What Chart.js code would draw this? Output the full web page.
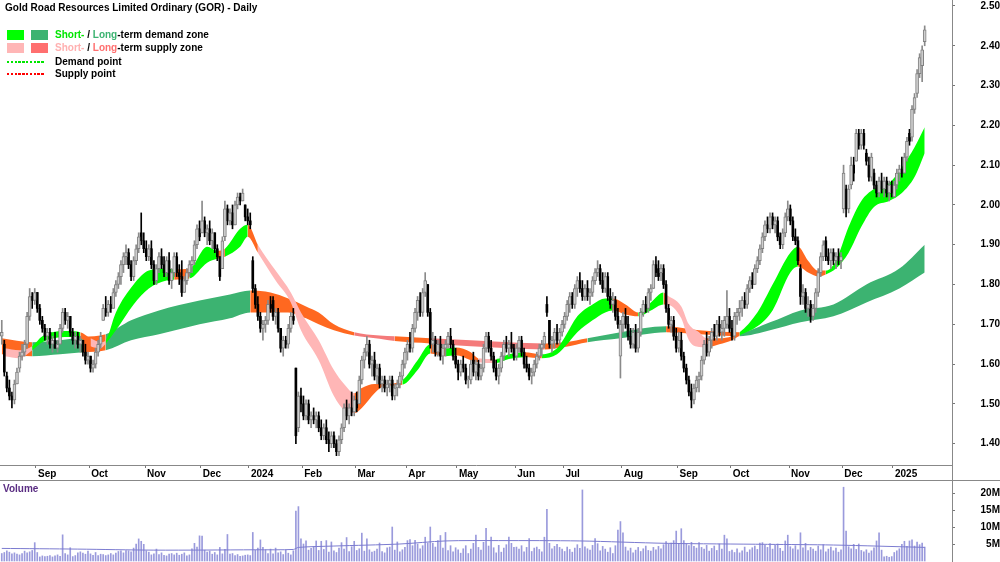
<!DOCTYPE html>
<html><head><meta charset="utf-8">
<script src="https://cdn.jsdelivr.net/npm/chart.js@4.4.1/dist/chart.umd.min.js"></script>
<style>
html,body{margin:0;padding:0;background:#fff;}
#wrap{position:relative;width:1000px;height:562px;overflow:hidden;font-family:"Liberation Sans",Arial,sans-serif;font-weight:bold;font-size:10px;color:#000;}
canvas{position:absolute;left:0;}
#c1{top:0;}
#c2{top:481px;}
.t{position:absolute;white-space:nowrap;line-height:12px;}
.sq{position:absolute;width:17px;height:10px;}
.dot{position:absolute;width:38px;height:2px;}
.ln{position:absolute;background:#888;}
</style></head>
<body>
<div id="wrap">
<canvas id="c1" width="1000" height="481"></canvas>
<canvas id="c2" width="1000" height="81"></canvas>
<div class="ln" style="left:0;top:480px;width:1000px;height:1px"></div>
<div class="ln" style="left:952px;top:0;width:1px;height:562px"></div>
<div class="t" style="left:5px;top:2px">Gold Road Resources Limited Ordinary (GOR) - Daily</div>
<div class="sq" style="left:7px;top:30px;background:#00FF00"></div>
<div class="sq" style="left:31px;top:30px;background:#3CB371"></div>
<div class="t" style="left:55px;top:29px"><span style="color:#00E600">Short-</span> / <span style="color:#3CB371">Long</span>-term demand zone</div>
<div class="sq" style="left:7px;top:43px;background:#FFB6B6"></div>
<div class="sq" style="left:31px;top:43px;background:#FF6F6F"></div>
<div class="t" style="left:55px;top:42px"><span style="color:#FFB0B0">Short-</span> / <span style="color:#FF6F6F">Long</span>-term supply zone</div>
<div class="dot" style="left:7px;top:61px;background:repeating-linear-gradient(90deg,#00E600 0 2.5px,transparent 2.5px 3.8px)"></div>
<div class="t" style="left:55px;top:56px">Demand point</div>
<div class="dot" style="left:7px;top:73px;background:repeating-linear-gradient(90deg,#FF0000 0 2.5px,transparent 2.5px 3.8px)"></div>
<div class="t" style="left:55px;top:68px">Supply point</div>
<div class="t" style="left:3px;top:483px;color:#5A2D82">Volume</div>
</div>
<script>
// ---- daily candles (Aug 2023 - Jan 2025), index = trading day ----
const opens = [
1.67,1.65,1.57,1.54,1.52,1.51,1.55,1.59,1.62,1.63,
1.65,1.72,1.77,1.76,1.78,1.74,1.71,1.69,1.67,1.68,
1.65,1.66,1.64,1.65,1.69,1.73,1.71,1.72,1.68,1.66,
1.67,1.65,1.66,1.63,1.61,1.62,1.59,1.60,1.63,1.65,
1.71,1.74,1.73,1.75,1.74,1.78,1.80,1.82,1.85,1.87,
1.88,1.85,1.82,1.86,1.89,1.93,1.91,1.89,1.87,1.89,
1.85,1.81,1.84,1.87,1.85,1.83,1.86,1.81,1.83,1.87,
1.83,1.82,1.78,1.81,1.83,1.85,1.86,1.90,1.94,1.93,
1.96,1.93,1.94,1.91,1.93,1.89,1.87,1.84,1.92,1.99,
1.96,1.98,1.95,2.00,2.02,2.01,2.00,1.97,1.96,1.86,
1.79,1.75,1.72,1.69,1.70,1.71,1.75,1.76,1.72,1.73,
1.69,1.64,1.66,1.65,1.69,1.72,1.59,1.44,1.52,1.50,
1.47,1.50,1.46,1.47,1.46,1.47,1.44,1.42,1.44,1.41,
1.40,1.42,1.40,1.38,1.41,1.44,1.49,1.47,1.49,1.48,
1.51,1.50,1.56,1.61,1.63,1.65,1.60,1.61,1.57,1.59,
1.55,1.56,1.54,1.55,1.56,1.52,1.54,1.55,1.57,1.60,
1.63,1.65,1.64,1.69,1.73,1.76,1.73,1.78,1.80,1.73,
1.65,1.66,1.63,1.65,1.62,1.64,1.65,1.67,1.65,1.62,
1.60,1.58,1.60,1.59,1.56,1.56,1.61,1.58,1.60,1.57,
1.59,1.64,1.67,1.64,1.62,1.59,1.57,1.59,1.62,1.65,
1.64,1.65,1.64,1.62,1.64,1.66,1.63,1.60,1.59,1.57,
1.58,1.60,1.62,1.64,1.65,1.75,1.71,1.65,1.66,1.68,
1.66,1.68,1.70,1.72,1.75,1.77,1.75,1.79,1.81,1.79,
1.77,1.79,1.77,1.78,1.81,1.83,1.84,1.81,1.79,1.82,
1.77,1.75,1.76,1.72,1.62,1.70,1.72,1.70,1.67,1.65,
1.68,1.64,1.68,1.73,1.75,1.74,1.78,1.79,1.85,1.84,
1.83,1.84,1.80,1.74,1.70,1.71,1.67,1.64,1.66,1.62,
1.59,1.56,1.53,1.51,1.54,1.56,1.57,1.61,1.65,1.63,
1.66,1.68,1.67,1.70,1.68,1.69,1.70,1.72,1.69,1.67,
1.72,1.73,1.74,1.76,1.75,1.79,1.81,1.80,1.84,1.86,
1.89,1.92,1.95,1.94,1.97,1.95,1.96,1.92,1.90,1.93,
1.97,1.99,1.96,1.92,1.91,1.84,1.77,1.78,1.74,1.75,
1.72,1.74,1.78,1.83,1.87,1.91,1.87,1.86,1.88,1.86,
1.87,1.86,1.99,2.04,1.99,2.05,2.10,2.11,2.18,2.15,
2.18,2.13,2.10,2.07,2.08,2.05,2.03,2.06,2.04,2.06,
2.03,2.05,2.02,2.05,2.08,2.09,2.08,2.12,2.18,2.17,
2.24,2.28,2.33,2.35,2.41];
const highs = [
1.71,1.66,1.58,1.56,1.53,1.56,1.59,1.63,1.65,1.66,
1.73,1.79,1.78,1.79,1.78,1.75,1.72,1.70,1.69,1.69,
1.67,1.68,1.66,1.70,1.74,1.74,1.73,1.72,1.69,1.68,
1.68,1.67,1.66,1.65,1.63,1.62,1.61,1.64,1.66,1.68,
1.75,1.77,1.76,1.77,1.79,1.81,1.83,1.86,1.88,1.90,
1.89,1.86,1.87,1.90,1.93,1.98,1.93,1.91,1.90,1.91,
1.86,1.85,1.88,1.89,1.87,1.87,1.88,1.84,1.88,1.88,
1.85,1.86,1.82,1.84,1.86,1.87,1.91,1.95,1.96,2.01,
1.97,1.95,1.96,1.94,1.93,1.90,1.87,1.92,2.01,2.00,
1.99,2.00,2.01,2.03,2.03,2.04,2.00,1.99,1.98,1.87,
1.80,1.77,1.73,1.71,1.72,1.76,1.77,1.77,1.74,1.74,
1.69,1.67,1.67,1.70,1.73,1.74,1.59,1.53,1.54,1.52,
1.51,1.51,1.48,1.49,1.48,1.48,1.46,1.45,1.46,1.43,
1.43,1.43,1.41,1.42,1.45,1.50,1.51,1.50,1.53,1.52,
1.53,1.57,1.62,1.64,1.67,1.66,1.62,1.63,1.60,1.60,
1.57,1.57,1.56,1.57,1.57,1.55,1.56,1.58,1.61,1.64,
1.66,1.68,1.70,1.74,1.77,1.78,1.79,1.83,1.80,1.74,
1.68,1.67,1.66,1.67,1.65,1.66,1.68,1.69,1.66,1.64,
1.61,1.61,1.62,1.60,1.57,1.61,1.63,1.61,1.61,1.60,
1.65,1.68,1.68,1.66,1.63,1.61,1.60,1.63,1.66,1.67,
1.66,1.68,1.65,1.65,1.67,1.67,1.64,1.62,1.60,1.59,
1.61,1.63,1.65,1.66,1.68,1.77,1.71,1.67,1.69,1.70,
1.69,1.71,1.73,1.76,1.78,1.78,1.80,1.82,1.83,1.81,
1.80,1.81,1.79,1.82,1.84,1.86,1.85,1.83,1.83,1.83,
1.79,1.78,1.77,1.74,1.71,1.73,1.74,1.72,1.69,1.69,
1.70,1.69,1.74,1.76,1.77,1.79,1.80,1.86,1.87,1.86,
1.85,1.85,1.81,1.75,1.72,1.72,1.69,1.68,1.68,1.63,
1.60,1.57,1.55,1.55,1.57,1.58,1.62,1.66,1.68,1.67,
1.69,1.70,1.71,1.72,1.71,1.72,1.785,1.74,1.71,1.73,
1.74,1.76,1.77,1.78,1.80,1.82,1.83,1.85,1.87,1.90,
1.93,1.96,1.97,1.98,1.98,1.97,1.97,1.93,1.94,1.98,
2.01,2.00,1.97,1.94,1.92,1.85,1.80,1.79,1.77,1.76,
1.75,1.79,1.84,1.88,1.91,1.92,1.89,1.89,1.89,1.88,
1.89,1.88,2.10,2.05,2.05,2.12,2.12,2.19,2.19,2.19,
2.19,2.14,2.12,2.13,2.09,2.06,2.07,2.08,2.07,2.07,
2.06,2.06,2.06,2.09,2.10,2.12,2.13,2.17,2.19,2.25,
2.28,2.34,2.38,2.40,2.45];
const lows = [
1.65,1.57,1.53,1.51,1.49,1.50,1.55,1.58,1.61,1.62,
1.64,1.71,1.74,1.75,1.73,1.70,1.68,1.66,1.65,1.64,
1.63,1.64,1.63,1.65,1.68,1.70,1.69,1.67,1.65,1.64,
1.64,1.63,1.62,1.60,1.60,1.58,1.58,1.59,1.62,1.64,
1.71,1.72,1.72,1.73,1.74,1.77,1.79,1.80,1.83,1.85,
1.84,1.81,1.81,1.85,1.88,1.90,1.88,1.86,1.86,1.84,
1.80,1.80,1.83,1.84,1.82,1.82,1.80,1.79,1.82,1.82,
1.80,1.77,1.78,1.80,1.82,1.83,1.85,1.89,1.91,1.93,
1.92,1.90,1.90,1.89,1.88,1.86,1.81,1.84,1.91,1.95,
1.95,1.94,1.95,1.99,2.00,2.01,1.96,1.95,1.94,1.78,
1.74,1.71,1.68,1.66,1.68,1.70,1.73,1.71,1.70,1.68,
1.63,1.62,1.64,1.64,1.68,1.70,1.40,1.43,1.48,1.46,
1.46,1.45,1.44,1.45,1.44,1.43,1.41,1.41,1.40,1.38,
1.39,1.39,1.37,1.37,1.40,1.43,1.46,1.45,1.47,1.47,
1.48,1.50,1.55,1.59,1.62,1.59,1.57,1.56,1.55,1.54,
1.53,1.53,1.52,1.53,1.51,1.51,1.52,1.54,1.56,1.59,
1.61,1.63,1.63,1.68,1.71,1.72,1.72,1.77,1.72,1.64,
1.63,1.62,1.62,1.61,1.60,1.62,1.64,1.64,1.61,1.59,
1.56,1.57,1.58,1.55,1.54,1.55,1.57,1.56,1.56,1.56,
1.58,1.63,1.63,1.61,1.58,1.56,1.55,1.58,1.61,1.63,
1.62,1.63,1.61,1.61,1.63,1.62,1.59,1.58,1.56,1.55,
1.57,1.59,1.61,1.62,1.64,1.72,1.64,1.63,1.64,1.65,
1.65,1.67,1.69,1.71,1.73,1.74,1.74,1.77,1.78,1.76,
1.76,1.76,1.75,1.77,1.80,1.82,1.80,1.78,1.78,1.76,
1.74,1.73,1.71,1.69,1.565,1.68,1.69,1.66,1.64,1.64,
1.63,1.63,1.67,1.72,1.73,1.73,1.76,1.79,1.82,1.81,
1.81,1.79,1.73,1.69,1.68,1.66,1.63,1.63,1.61,1.58,
1.55,1.52,1.49,1.50,1.53,1.53,1.56,1.60,1.62,1.62,
1.64,1.66,1.66,1.67,1.66,1.67,1.69,1.68,1.66,1.66,
1.70,1.71,1.72,1.74,1.74,1.78,1.79,1.80,1.83,1.85,
1.88,1.91,1.93,1.93,1.94,1.93,1.91,1.89,1.89,1.92,
1.96,1.95,1.91,1.90,1.85,1.75,1.75,1.73,1.72,1.705,
1.71,1.73,1.77,1.82,1.86,1.86,1.85,1.84,1.85,1.84,
1.85,1.84,1.98,1.97,1.98,2.04,2.06,2.11,2.14,2.14,
2.14,2.10,2.06,2.06,2.04,2.02,2.02,2.03,2.02,2.02,
2.01,2.02,2.02,2.04,2.06,2.07,2.08,2.11,2.15,2.16,
2.23,2.27,2.32,2.31,2.40];
const closes = [
1.68,1.58,1.54,1.52,1.51,1.55,1.58,1.62,1.63,1.65,
1.72,1.77,1.76,1.78,1.74,1.71,1.69,1.67,1.68,1.65,
1.66,1.64,1.65,1.69,1.73,1.71,1.72,1.68,1.66,1.67,
1.65,1.66,1.63,1.61,1.62,1.59,1.60,1.63,1.65,1.67,
1.74,1.73,1.75,1.74,1.78,1.80,1.82,1.85,1.87,1.88,
1.85,1.82,1.86,1.89,1.92,1.91,1.89,1.87,1.89,1.85,
1.81,1.84,1.87,1.85,1.83,1.86,1.81,1.83,1.87,1.83,
1.82,1.78,1.81,1.83,1.85,1.86,1.90,1.94,1.92,1.96,
1.93,1.94,1.91,1.93,1.89,1.87,1.82,1.91,1.99,1.96,
1.98,1.95,2.00,2.02,2.01,2.03,1.97,1.96,1.95,1.79,
1.75,1.72,1.69,1.70,1.71,1.75,1.74,1.72,1.73,1.69,
1.64,1.66,1.65,1.69,1.72,1.71,1.42,1.52,1.50,1.47,
1.50,1.46,1.47,1.46,1.47,1.44,1.42,1.44,1.41,1.40,
1.42,1.40,1.38,1.41,1.44,1.49,1.47,1.49,1.48,1.51,
1.49,1.56,1.61,1.63,1.65,1.60,1.61,1.57,1.59,1.55,
1.56,1.54,1.55,1.56,1.52,1.54,1.55,1.57,1.60,1.63,
1.65,1.64,1.69,1.73,1.76,1.73,1.78,1.81,1.73,1.65,
1.66,1.63,1.65,1.62,1.64,1.65,1.67,1.65,1.62,1.60,
1.58,1.60,1.59,1.56,1.56,1.60,1.58,1.60,1.57,1.59,
1.64,1.67,1.64,1.62,1.59,1.57,1.59,1.62,1.65,1.64,
1.65,1.64,1.62,1.64,1.66,1.63,1.60,1.59,1.57,1.58,
1.60,1.62,1.64,1.65,1.67,1.73,1.65,1.66,1.68,1.66,
1.68,1.70,1.72,1.75,1.77,1.75,1.79,1.81,1.79,1.77,
1.79,1.77,1.78,1.81,1.83,1.84,1.81,1.79,1.82,1.77,
1.75,1.76,1.72,1.70,1.70,1.72,1.70,1.67,1.65,1.68,
1.64,1.68,1.73,1.75,1.74,1.78,1.79,1.85,1.83,1.82,
1.84,1.80,1.74,1.70,1.71,1.67,1.64,1.66,1.62,1.59,
1.56,1.53,1.51,1.54,1.56,1.57,1.61,1.65,1.63,1.66,
1.68,1.67,1.70,1.68,1.69,1.71,1.72,1.69,1.67,1.72,
1.73,1.74,1.76,1.75,1.79,1.81,1.80,1.84,1.86,1.89,
1.92,1.95,1.94,1.97,1.95,1.96,1.92,1.90,1.93,1.97,
1.99,1.96,1.92,1.91,1.86,1.77,1.78,1.74,1.75,1.72,
1.74,1.78,1.83,1.87,1.90,1.87,1.86,1.88,1.86,1.87,
1.86,1.87,2.08,1.99,2.04,2.10,2.08,2.18,2.15,2.18,
2.15,2.11,2.07,2.12,2.05,2.03,2.06,2.04,2.06,2.03,
2.05,2.03,2.05,2.08,2.09,2.08,2.12,2.16,2.16,2.24,
2.27,2.33,2.37,2.39,2.44];
// daily volume, millions of shares
const volumes = [
2.2,2.5,3.0,2.6,2.1,2.4,2.0,1.8,2.2,2.9,
2.4,2.7,3.1,5.4,2.5,1.2,1.5,1.3,1.4,1.6,
1.2,1.5,1.8,1.4,7.7,2.2,1.8,3.9,1.3,1.6,
2.4,2.7,2.3,2.0,2.9,2.1,1.7,2.5,1.6,2.0,
1.9,1.6,1.8,2.2,1.8,2.3,2.8,3.0,2.4,3.1,
3.0,2.7,3.8,5.0,6.5,5.8,4.9,3.0,2.6,1.8,
2.1,3.5,1.9,2.4,1.7,1.5,2.0,2.2,1.8,2.3,
1.7,2.0,2.4,1.5,1.8,3.6,5.2,4.1,7.4,7.3,
3.2,2.6,2.9,2.0,2.5,1.8,4.0,2.1,3.4,7.8,
2.0,2.2,1.6,1.9,1.4,1.5,1.7,1.8,1.6,8.4,
3.2,3.8,6.2,4.0,3.3,2.2,3.5,2.1,3.8,2.4,
2.7,1.9,3.2,2.3,1.8,3.0,14.7,16.0,6.5,5.0,
5.9,3.2,3.7,4.2,5.9,3.1,5.8,3.4,6.0,2.6,
5.6,3.0,2.5,3.8,5.4,3.5,6.9,2.8,4.2,5.8,
3.1,3.6,8.2,2.9,6.5,3.3,2.6,2.9,3.5,5.3,
2.8,2.4,3.9,4.1,10.0,3.2,5.6,2.7,3.3,4.0,
6.0,6.3,4.5,6.1,5.0,3.6,4.5,7.0,5.3,10.0,
5.2,4.1,6.0,7.5,3.8,8.4,3.1,4.5,2.7,3.9,
3.3,2.3,3.6,4.5,2.2,3.5,5.2,7.6,4.0,3.2,
5.5,9.6,4.4,7.0,3.9,2.4,4.6,2.6,3.8,4.8,
7.0,5.2,4.0,4.1,3.5,4.5,2.7,4.0,6.6,2.8,
3.8,4.1,3.4,2.7,7.0,15.2,5.2,3.6,4.3,4.9,
4.0,3.5,2.8,4.1,3.4,2.6,3.8,4.8,3.7,20.9,
4.2,3.6,3.2,4.6,6.6,5.1,3.0,4.3,3.5,2.6,
3.9,2.2,4.5,9.1,11.6,8.3,4.1,3.0,3.8,2.4,
3.2,4.0,2.8,3.6,4.4,3.1,2.9,4.0,3.3,4.3,
3.6,4.8,5.7,4.9,5.3,6.0,8.8,5.1,9.5,6.0,
5.0,4.5,5.5,4.3,3.8,5.4,4.0,3.5,4.6,2.9,
3.7,4.4,3.1,5.0,3.5,7.6,6.5,2.8,3.2,2.5,
3.6,2.4,3.0,4.1,2.6,3.3,3.9,4.4,3.4,5.3,
5.4,4.6,4.0,5.1,3.5,4.6,5.0,3.7,2.9,5.9,
7.6,4.2,3.6,4.5,3.3,8.3,3.9,5.2,3.1,4.0,
3.5,2.9,4.4,3.3,4.8,2.7,3.5,4.1,3.0,3.8,
2.6,3.3,21.7,8.8,4.2,3.6,4.9,3.4,5.0,3.1,
2.7,3.3,2.3,3.0,3.9,5.9,8.3,3.2,1.2,1.4,
1.1,1.3,2.5,3.0,3.6,4.9,5.8,4.3,5.9,6.2,
4.4,5.6,4.8,5.3,4.1];
// volume moving average, read at these day indices
const volMAIdx = [0,30,60,100,115,117,131,157,175,196,228,262,302,328,364];
const volMA    = [3.7,3.5,3.2,3.3,3.4,4.0,4.4,5.0,5.9,6.0,5.9,5.2,4.9,4.7,4.0];

// long-term zone (read at these day indices); G demand, O/S supply
const longIdx   = [0,12,23,32,41,51,62,78,90,98,106,113,120,125,131,139,149,155,169,185,200,214,222,231,244,262,275,291,303,315,328,341,354,364];
const longUpper = [1.665,1.655,1.66,1.668,1.675,1.71,1.735,1.76,1.775,1.785,1.78,1.765,1.745,1.73,1.70,1.68,1.672,1.67,1.665,1.66,1.655,1.652,1.655,1.665,1.68,1.695,1.685,1.68,1.705,1.735,1.75,1.80,1.84,1.90];
const longLower = [1.625,1.62,1.625,1.63,1.635,1.66,1.675,1.70,1.715,1.73,1.73,1.73,1.715,1.70,1.685,1.672,1.664,1.658,1.652,1.645,1.64,1.637,1.643,1.655,1.665,1.68,1.675,1.67,1.685,1.705,1.72,1.755,1.79,1.83];
const longZone  = ['O','G','G','O','G','G','G','G','G','O','O','O','O','O','O','S','S','O','S','S','S','O','O','G','G','O','O','G','G','G','G','G','G','G'];

// short-term zone; G demand, P/O supply
const shortIdx   = [1,7,12,16,26,31,35,39,41,45,52,58,65,68,74,81,85,88,94,97,101,108,114,118,125,131,135,139,142,147,151,158,164,169,175,179,185,188,195,200,206,213,219,222,227,233,238,241,246,251,256,261,262,268,271,275,278,283,288,291,298,304,311,314,318,322,325,329,334,339,344,350,355,360,364];
const shortUpper = [1.64,1.635,1.645,1.67,1.683,1.68,1.665,1.655,1.66,1.73,1.80,1.835,1.84,1.838,1.84,1.895,1.885,1.89,1.94,1.95,1.90,1.835,1.78,1.73,1.66,1.585,1.55,1.527,1.54,1.55,1.55,1.56,1.61,1.65,1.64,1.642,1.63,1.615,1.613,1.625,1.63,1.625,1.64,1.667,1.72,1.75,1.765,1.765,1.75,1.73,1.755,1.78,1.775,1.745,1.70,1.68,1.665,1.665,1.67,1.68,1.73,1.80,1.88,1.895,1.86,1.835,1.835,1.86,1.945,2.01,2.04,2.055,2.095,2.145,2.195];
const shortLower = [1.62,1.615,1.635,1.655,1.668,1.665,1.645,1.64,1.652,1.685,1.75,1.79,1.81,1.812,1.815,1.855,1.865,1.87,1.895,1.92,1.88,1.81,1.755,1.685,1.61,1.52,1.485,1.477,1.49,1.527,1.545,1.548,1.585,1.627,1.62,1.622,1.61,1.605,1.603,1.613,1.617,1.615,1.625,1.643,1.68,1.71,1.73,1.735,1.725,1.72,1.735,1.75,1.75,1.715,1.66,1.643,1.642,1.65,1.66,1.672,1.695,1.735,1.83,1.845,1.83,1.82,1.825,1.84,1.88,1.945,1.995,2.01,2.03,2.07,2.13];
const shortZone  = ['P','P','G','G','G','O','P','P','G','G','G','G','G','O','G','G','O','G','G','O','P','P','P','P','P','P','P','O','O','O','O','G','G','O','G','O','O','P','G','G','O','G','G','G','G','G','G','O','O','G','G','O','P','P','P','P','O','O','O','G','G','G','G','O','O','O','G','G','G','G','G','G','G','G','G'];

// axis labels
const monthTicks  = [13.5,34.5,56.5,78.5,97.5,118.5,139.5,159.5,179.5,202.5,221.5,244.5,266.5,287.5,310.5,331.5,351.5];
const monthLabels = ['Sep','Oct','Nov','Dec','2024','Feb','Mar','Apr','May','Jun','Jul','Aug','Sep','Oct','Nov','Dec','2025'];
const priceTicks  = [1.4,1.5,1.6,1.7,1.8,1.9,2.0,2.1,2.2,2.3,2.4,2.5];
const volumeTicks = [5,10,15,20];

// ---- styling / build ----
const FONT = {family:'Liberation Sans', size:10, weight:'bold'};
const shortColors = {G:'#00FF00', O:'#FF6820', P:'#FFB6B6'};
const longColors  = {G:'#3CB371', O:'#FF6820', S:'#F47A7A'};
const X_MIN = -0.698, X_MAX = 374.77;
const isUp = i => closes[i] >= opens[i];
const pts = (idx, vals) => idx.map((x, k) => ({x: x, y: vals[k]}));
const bandLine = (data, extra) => Object.assign({
  type:'line', data: data, pointRadius:0, borderWidth:0, borderColor:'rgba(0,0,0,0)',
  cubicInterpolationMode:'monotone', fill:false
}, extra);
const fitRight = s => { s.width = 48; s.paddingTop = 0; s.paddingBottom = 0; };

const wickData = lows.map((l, i) => ({x: i, y: [l, highs[i]]}));
const upBodies = [], downBodies = [];
opens.forEach((o, i) => (isUp(i) ? upBodies : downBodies).push({x: i, y: [o, closes[i]]}));

new Chart(document.getElementById('c1'), {
  type:'bar',
  data:{datasets:[
    {type:'bar', data: wickData, stack:'c', barThickness:1, order:1,
     backgroundColor: c => isUp(c.dataIndex) ? '#8A8A8A' : '#000000'},
    {type:'bar', data: upBodies, stack:'c', barThickness:3, order:0, minBarLength:1,
     borderWidth:1, borderSkipped:false, backgroundColor:'#CFCFCF', borderColor:'#808080'},
    {type:'bar', data: downBodies, stack:'c', barThickness:2, order:0, minBarLength:1,
     backgroundColor:'#000000'},
    bandLine(pts(shortIdx, shortUpper), {order:2, fill:'+1', backgroundColor:'#00FF00',
      segment:{backgroundColor: c => shortColors[shortZone[c.p0DataIndex]]}}),
    bandLine(pts(shortIdx, shortLower), {order:2}),
    bandLine(pts(longIdx, longUpper), {order:3, fill:'+1', backgroundColor:'#3CB371',
      segment:{backgroundColor: c => longColors[longZone[c.p0DataIndex]]}}),
    bandLine(pts(longIdx, longLower), {order:3})
  ]},
  options:{
    responsive:false, animation:false, devicePixelRatio:1, events:[],
    layout:{padding:0, autoPadding:false},
    plugins:{legend:{display:false}, tooltip:{enabled:false}},
    scales:{
      x:{type:'linear', min:X_MIN, max:X_MAX, offset:false, position:'bottom',
        afterFit: s => { s.height = 16; s.paddingLeft = 0; s.paddingRight = 0; },
        afterBuildTicks: s => { s.ticks = monthTicks.map(v => ({value:v})); },
        grid:{drawOnChartArea:false, drawTicks:true, tickLength:3, color:'#777', offset:false},
        border:{display:true, color:'#888'},
        ticks:{callback:(v, i) => monthLabels[i], align:'start', labelOffset:2, padding:0,
          font:FONT, color:'#000', maxRotation:0, autoSkip:false}},
      y:{type:'linear', position:'right', min:1.3465, max:2.515, stacked:false,
        afterFit: fitRight,
        afterBuildTicks: s => { s.ticks = priceTicks.map(v => ({value:v})); },
        grid:{drawOnChartArea:false, drawTicks:true, tickLength:3, color:'#777'},
        border:{display:false},
        ticks:{callback: v => v.toFixed(2), padding:21, crossAlign:'far', font:FONT, color:'#000', autoSkip:false}}
    }
  }
});

new Chart(document.getElementById('c2'), {
  type:'bar',
  data:{datasets:[
    {type:'line', data: pts(volMAIdx, volMA), borderColor:'#7B7BD0', borderWidth:1, pointRadius:0, tension:0.3, order:0},
    {type:'bar', data: volumes.map((v, i) => ({x:i, y:v})), backgroundColor:'#9A9ADC', barThickness:1, order:1}
  ]},
  options:{
    responsive:false, animation:false, devicePixelRatio:1, events:[],
    layout:{padding:0, autoPadding:false},
    plugins:{legend:{display:false}, tooltip:{enabled:false}},
    scales:{
      x:{type:'linear', min:X_MIN, max:X_MAX, offset:false, display:false},
      y:{type:'linear', position:'right', min:-0.294, max:23.53,
        afterFit: fitRight,
        afterBuildTicks: s => { s.ticks = volumeTicks.map(v => ({value:v})); },
        grid:{drawOnChartArea:false, drawTicks:true, tickLength:3, color:'#777'},
        border:{display:false},
        ticks:{callback: v => v + 'M', padding:22, crossAlign:'far', font:FONT, color:'#000', autoSkip:false}}
    }
  }
});
</script>
</body></html>
